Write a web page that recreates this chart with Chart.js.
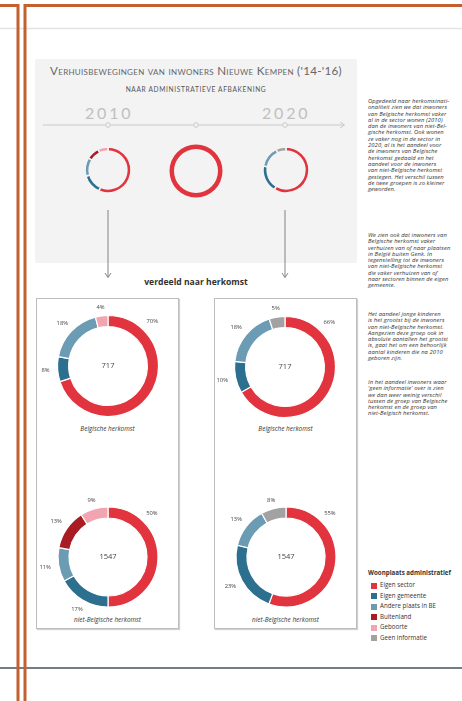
<!DOCTYPE html>
<html>
<head>
<meta charset="utf-8">
<script src="https://cdn.jsdelivr.net/npm/chart.js"></script>
<style>
  body { margin: 0; width: 462px; height: 701px; position: relative; overflow: hidden; background: #fff; font-family: "Open Sans", sans-serif; }
  .abs { position: absolute; }
  canvas { position: absolute; }
  #panel { left: 35px; top: 59px; width: 322px; height: 204px; background: #f3f3f3; }
  #title { left: 35px; top: 64px; width: 322px; text-align: center; font-family: Lato, sans-serif; font-variant: small-caps; font-size: 11.6px; letter-spacing: 0.3px; color: #666; white-space: nowrap; }
  #subtitle { left: 35px; top: 85px; width: 322px; text-align: center; font-family: Lato, sans-serif; font-size: 6.6px; letter-spacing: 0.65px; color: #555; }
  .year { top: 103px; font-family: Lato, sans-serif; font-size: 16px; letter-spacing: 2.8px; color: #c0c0c0; }
  #sub2 { left: 35px; top: 276px; width: 322px; text-align: center; font-weight: bold; font-size: 8.6px; color: #333; }
  .box { top: 298px; width: 143px; height: 331px; border: 1px solid #bdbdbd; box-shadow: 1px 1px 1px rgba(0,0,0,0.18); box-sizing: border-box; }
  .cap { width: 143px; text-align: center; font-style: italic; font-size: 6.4px; color: #333; }
  .par { left: 368px; width: 92px; font-style: italic; font-size: 5.8px; letter-spacing: 0.1px; line-height: 6.3px; color: #333; white-space: pre; }
  #legend { left: 368px; top: 568px; font-size: 6.2px; color: #333; }
  #legend .t { font-weight: bold; margin-bottom: 3px; }
  #legend .i { height: 10.5px; line-height: 10.5px; padding-left: 12px; position: relative; }
  #legend .i span { position: absolute; left: 3px; top: 2.5px; width: 6px; height: 6px; }
</style>
</head>
<body>
<script>
const categories = ['Eigen sector', 'Eigen gemeente', 'Andere plaats in BE', 'Buitenland', 'Geboorte', 'Geen informatie'];
const totaal2010 = [56, 14, 13, 9, 7, 0];
const totaal2020 = [58, 19, 15, 0, 0, 7];
const belg2010 = [70, 8, 18, 0, 4, 0];
const belg2020 = [66, 10, 18, 0, 0, 5];
const nietBelg2010 = [50, 17, 11, 13, 9, 0];
const nietBelg2020 = [55, 23, 13, 0, 0, 8];
const aantalBelg = 717;
const aantalNietBelg = 1547;
const jaren = ['2010', '2020'];
</script>

<div id="panel" class="abs"></div>
<div id="title" class="abs">Verhuisbewegingen van inwoners Nieuwe Kempen ('14-'16)</div>
<div id="subtitle" class="abs">NAAR ADMINISTRATIEVE AFBAKENING</div>
<div id="y1" class="abs year" style="left:85px"></div>
<div id="y2" class="abs year" style="left:262px"></div>
<div id="sub2" class="abs">verdeeld naar herkomst</div>
<div class="abs box" style="left:36px"></div>
<div class="abs box" style="left:214px"></div>
<div class="abs cap" style="left:36px;top:424px">Belgische herkomst</div>
<div class="abs cap" style="left:214px;top:424px">Belgische herkomst</div>
<div class="abs cap" style="left:36px;top:615px">niet-Belgische herkomst</div>
<div class="abs cap" style="left:214px;top:615px">niet-Belgische herkomst</div>

<div class="abs par" style="top:98px">Opgedeeld naar herkomstnati-
onaliteit zien we dat inwoners
van Belgische herkomst vaker
al in de sector wonen (2010)
dan de inwoners van niet-Bel-
gische herkomst. Ook wonen
ze vaker nog in de sector in
2020, al is het aandeel voor
de inwoners van Belgische
herkomst gedaald en het
aandeel voor de inwoners
van niet-Belgische herkomst
gestegen. Het verschil tussen
de twee groepen is zo kleiner
geworden.</div>
<div class="abs par" style="top:232px">We zien ook dat inwoners van
Belgische herkomst vaker
verhuizen van of naar plaatsen
in België buiten Genk. In
tegenstelling tot de inwoners
van niet-Belgische herkomst
die vaker verhuizen van of
naar sectoren binnen de eigen
gemeente.</div>
<div class="abs par" style="top:311px">Het aandeel jonge kinderen
is het grootst bij de inwoners
van niet-Belgische herkomst.
Aangezien deze groep ook in
absolute aantallen het grootst
is, gaat het om een behoorlijk
aantal kinderen die na 2010
geboren zijn.</div>
<div class="abs par" style="top:379px">In het aandeel inwoners waar
'geen informatie' over is zien
we dan weer weinig verschil
tussen de groep van Belgische
herkomst en de groep van
niet-Belgisch herkomst.</div>

<div id="legend" class="abs"></div>

<svg class="abs" style="left:0;top:0" width="462" height="701">
  <line x1="0" y1="28.5" x2="462" y2="28.5" stroke="#e4e4e4" stroke-width="1.5"/>
  <line x1="0" y1="668" x2="462" y2="668" stroke="#46525c" stroke-width="1.6"/>
  <path d="M0 5.5 H18 V701 M25 701 V5.5 H462" fill="none" stroke="#c4602f" stroke-width="3"/>
  <line x1="43" y1="125" x2="344" y2="125" stroke="#c9c9c9" stroke-width="1"/>
  <path d="M340 122 L344.5 125 L340 128" fill="none" stroke="#c9c9c9" stroke-width="1"/>
  <circle cx="108" cy="125" r="2.3" fill="#f3f3f3" stroke="#c9c9c9"/>
  <circle cx="196" cy="125" r="2.3" fill="#f3f3f3" stroke="#c9c9c9"/>
  <circle cx="285" cy="125" r="2.3" fill="#f3f3f3" stroke="#c9c9c9"/>
  <path d="M108 210 V277 M105 273 L108 277.5 L111 273" fill="none" stroke="#777" stroke-width="0.9"/>
  <path d="M285 210 V277 M282 273 L285 277.5 L288 273" fill="none" stroke="#777" stroke-width="0.9"/>
</svg>

<script>
const kleuren = ['#e2343f', '#2c6f8e', '#6c9bb4', '#a91c23', '#f2a5b0', '#a2a2a2'];

document.getElementById('y1').textContent = jaren[0];
document.getElementById('y2').textContent = jaren[1];

const legend = document.getElementById('legend');
legend.innerHTML = '<div class="t">Woonplaats administratief</div>' +
  categories.map((c, i) => '<div class="i"><span style="background:' + kleuren[i] + '"></span>' + c + '</div>').join('');

const pctLabels = {
  id: 'pctLabels',
  afterDatasetsDraw(chart, args, opts) {
    const ctx = chart.ctx;
    const meta = chart.getDatasetMeta(0);
    const data = chart.data.datasets[0].data;
    ctx.save();
    ctx.textAlign = 'center';
    ctx.textBaseline = 'middle';
    ctx.fillStyle = '#444';
    if (opts.show) {
      ctx.font = '5.8px "Open Sans"';
      meta.data.forEach((arc, i) => {
        if (!data[i]) return;
        const p = arc.getProps(['x', 'y', 'startAngle', 'endAngle', 'outerRadius']);
        let a = (p.startAngle + p.endAngle) / 2;
        if (i === 0) a = Math.min(a, p.startAngle + Math.PI / 4);
        const txt = data[i] + '%';
        const w = ctx.measureText(txt).width;
        const r = p.outerRadius + 8 + Math.abs(Math.cos(a)) * w / 2;
        ctx.fillText(txt, p.x + Math.cos(a) * r, p.y + Math.sin(a) * r);
      });
    }
    if (opts.center) {
      ctx.font = '7.5px "Open Sans"';
      const p = meta.data[0];
      ctx.fillText(opts.center, p.x, p.y);
    }
    ctx.restore();
  }
};

function donut(cx, cy, size, values, radius, cutout, border, borderColor, center) {
  const cv = document.createElement('canvas');
  cv.width = size; cv.height = size;
  cv.style.left = (cx - size / 2) + 'px';
  cv.style.top = (cy - size / 2) + 'px';
  document.body.appendChild(cv);
  return new Chart(cv, {
    type: 'doughnut',
    data: {
      labels: categories,
      datasets: [{
        data: values,
        backgroundColor: kleuren,
        borderColor: borderColor,
        borderWidth: border
      }]
    },
    options: {
      responsive: false,
      animation: false,
      radius: radius,
      cutout: cutout,
      layout: { padding: 0 },
      plugins: {
        legend: { display: false },
        tooltip: { enabled: false },
        pctLabels: { show: !!center, center: center }
      }
    },
    plugins: [pctLabels]
  });
}

// bovenste reeks: totaal per jaar
donut(107.5, 170, 60, totaal2010, 23, '82%', 1.6, '#f3f3f3', null);
donut(196, 170.5, 64, [100], 26.5, '83%', 0, '#f3f3f3', null);
donut(285.5, 170, 60, totaal2020, 23, '82%', 1.6, '#f3f3f3', null);

// per herkomst
donut(108, 366, 150, belg2010, 50.5, '78%', 1.2, '#fff', String(aantalBelg));
donut(285, 366.5, 150, belg2020, 50.5, '78%', 1.2, '#fff', String(aantalBelg));
donut(108, 557, 150, nietBelg2010, 50, '78%', 1.2, '#fff', String(aantalNietBelg));
donut(285.5, 557, 150, nietBelg2020, 50, '78%', 1.2, '#fff', String(aantalNietBelg));
</script>
</body>
</html>
